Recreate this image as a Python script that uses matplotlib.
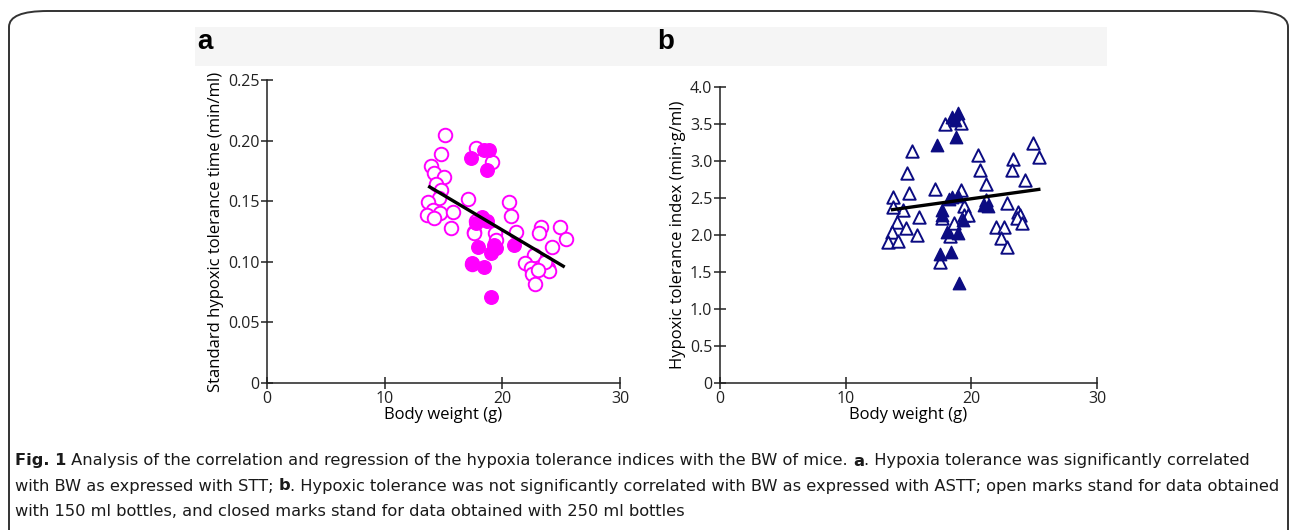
import numpy as np
import matplotlib
matplotlib.use("Agg")
import matplotlib.pyplot as plt
from matplotlib.patches import FancyBboxPatch, Rectangle

# ==== data ====
# panel a: standard hypoxic tolerance time, open = 150 ml bottles, filled = 250 ml
a_open_x = [15.1, 14.8, 13.9, 14.2, 15.0, 14.4, 14.8, 14.6, 13.7, 14.1, 13.6, 14.7,
            15.8, 14.2, 15.6, 17.1, 17.8, 17.6, 17.4, 17.8, 19.1, 20.6, 20.7, 21.2,
            19.4, 19.5, 23.3, 23.1, 24.9, 25.4, 24.2, 22.7, 21.9, 22.4, 22.5, 22.8,
            23.5, 23.9, 24.0, 23.6, 23.0, 17.6]
a_open_y = [0.205, 0.189, 0.179, 0.173, 0.170, 0.164, 0.159, 0.153, 0.149, 0.143, 0.139, 0.140,
            0.141, 0.136, 0.128, 0.152, 0.134, 0.125, 0.098, 0.194, 0.182, 0.149, 0.138, 0.125,
            0.124, 0.118, 0.129, 0.124, 0.129, 0.119, 0.112, 0.106, 0.099, 0.095, 0.090, 0.082,
            0.097, 0.095, 0.092, 0.100, 0.093, 0.124]
a_fill_x = [17.3, 18.4, 18.9, 18.7, 18.3, 17.8, 17.9, 19.3, 19.0, 17.4, 18.4, 19.0, 21.0, 19.5, 18.7]
a_fill_y = [0.186, 0.192, 0.192, 0.176, 0.137, 0.132, 0.112, 0.114, 0.107, 0.099, 0.096, 0.071,
            0.114, 0.111, 0.134]
a_fit = (-0.00576, 0.2414)       # slope, intercept
a_fit_range = [13.7, 25.3]

# panel b: hypoxic tolerance index
b_open_x = [15.3, 14.9, 15.0, 13.8, 14.6, 15.8, 14.1, 14.8, 13.7, 15.7, 13.4, 14.2, 13.8,
            17.1, 17.9, 19.2, 19.2, 19.4, 19.4, 18.6, 17.7, 18.3, 17.5, 19.7,
            20.5, 20.7, 21.2, 21.2, 22.8, 23.3, 23.2, 24.9, 25.4, 24.3, 22.0, 22.6, 22.4,
            22.8, 23.7, 23.9, 23.6, 24.0]
b_open_y = [3.14, 2.84, 2.57, 2.51, 2.34, 2.25, 2.18, 2.09, 2.04, 2.00, 1.91, 1.92, 2.38,
            2.62, 3.50, 3.51, 2.61, 2.39, 2.27, 2.16, 2.23, 1.99, 1.64, 2.27,
            3.08, 2.88, 2.69, 2.47, 2.43, 3.03, 2.88, 3.24, 3.05, 2.74, 2.11, 2.11, 1.96,
            1.84, 2.31, 2.27, 2.23, 2.16]
b_fill_x = [18.9, 18.5, 18.7, 17.3, 18.8, 18.5, 18.9, 18.2, 17.7, 17.7, 19.3, 18.1, 18.9,
            17.5, 18.4, 19.0, 21.0, 21.3]
b_fill_y = [3.65, 3.60, 3.55, 3.22, 3.32, 2.51, 2.53, 2.49, 2.34, 2.27, 2.20, 2.04, 2.03,
            1.75, 1.77, 1.35, 2.41, 2.39]
b_fit = (0.0235, 2.02)
b_fit_range = [13.6, 25.5]

x_ticks = [0, 10, 20, 30]
a_yticks = [0, 0.05, 0.10, 0.15, 0.20, 0.25]
a_yticklabels = ["0", "0.05", "0.10", "0.15", "0.20", "0.25"]
b_yticks = [0, 0.5, 1.0, 1.5, 2.0, 2.5, 3.0, 3.5, 4.0]
b_yticklabels = ["0", "0.5", "1.0", "1.5", "2.0", "2.5", "3.0", "3.5", "4.0"]

caption = [
    [("Fig. 1", True), (" Analysis of the correlation and regression of the hypoxia tolerance "
                        "indices with the BW of mice. ", False), ("a", True),
     (". Hypoxia tolerance was significantly correlated", False)],
    [("with BW as expressed with STT; ", False), ("b", True),
     (". Hypoxic tolerance was not significantly correlated with BW as expressed with ASTT; "
      "open marks stand for data obtained", False)],
    [("with 150 ml bottles, and closed marks stand for data obtained with 250 ml bottles", False)],
]

magenta = "#ff00ff"
navy = "#0c0c82"

plt.rcParams['font.family'] = ['Open Sans', 'DejaVu Sans']

W, H = 1292, 530
fig = plt.figure(figsize=(W / 100, H / 100), dpi=100)

def fx(px):
    return px / W

def fy(py):
    return 1 - py / H

# rounded frame and light header band
frame = FancyBboxPatch((fx(9), fy(600)), fx(1279), (600 - 11) / H,
                       boxstyle="round,pad=0,rounding_size=0.03",
                       transform=fig.transFigure, facecolor="none",
                       edgecolor="#333333", lw=1.4, clip_on=False)
fig.patches.append(frame)
fig.patches.append(Rectangle((fx(195), fy(66)), fx(1107 - 195), 39 / H,
                             transform=fig.transFigure, facecolor="#f5f5f5",
                             edgecolor="none"))


def style_axes(ax):
    for s in ["top", "right"]:
        ax.spines[s].set_visible(False)
    for s in ["left", "bottom"]:
        ax.spines[s].set_linewidth(1.1)
        ax.spines[s].set_color("#222222")
    ax.tick_params(direction="inout", length=9, width=1.1, labelsize=11.5,
                   colors="#222222", pad=1)
    ax.set_xlim(0, 30)
    ax.set_xticks(x_ticks)
    ax.set_xticklabels([str(t) for t in x_ticks])
    ax.patch.set_alpha(0)


# ==== panel a ====
ax1 = fig.add_axes([fx(267), fy(383), fx(620 - 267), (383 - 80) / H])
style_axes(ax1)
ax1.set_ylim(0, 0.25)
ax1.set_yticks(a_yticks)
ax1.set_yticklabels(a_yticklabels)
ax1.scatter(a_open_x, a_open_y, s=95, facecolors="white", edgecolors=magenta,
            linewidths=1.4, zorder=3, clip_on=False)
ax1.scatter(a_fill_x, a_fill_y, s=95, facecolors=magenta, edgecolors=magenta,
            linewidths=1.0, zorder=4, clip_on=False)
xa = np.array(a_fit_range)
ax1.plot(xa, a_fit[0] * xa + a_fit[1], color="black", lw=2.4, zorder=5,
         solid_capstyle="butt")
ax1.set_xlabel("Body weight (g)", fontsize=12, labelpad=0)
ax1.set_ylabel("Standard hypoxic tolerance time (min/ml)", fontsize=12, labelpad=3)

# ==== panel b ====
ax2 = fig.add_axes([fx(720), fy(383), fx(1097 - 720), (383 - 87) / H])
style_axes(ax2)
ax2.set_ylim(0, 4.0)
ax2.set_yticks(b_yticks)
ax2.set_yticklabels(b_yticklabels)
ax2.scatter(b_open_x, b_open_y, s=80, marker="^", facecolors="white", edgecolors=navy,
            linewidths=1.4, zorder=3, clip_on=False)
ax2.scatter(b_fill_x, b_fill_y, s=80, marker="^", facecolors=navy, edgecolors=navy,
            linewidths=1.0, zorder=4, clip_on=False)
xb = np.array(b_fit_range)
ax2.plot(xb, b_fit[0] * xb + b_fit[1], color="black", lw=2.4, zorder=5,
         solid_capstyle="butt")
ax2.set_xlabel("Body weight (g)", fontsize=12, labelpad=0)
ax2.set_ylabel("Hypoxic tolerance index (min\u00b7g/ml)", fontsize=12, labelpad=3)

# panel letters
fig.text(fx(197), fy(42), "a", fontsize=20, fontweight="bold", va="center",
         family=["Liberation Sans", "DejaVu Sans"])
fig.text(fx(657), fy(42), "b", fontsize=20, fontweight="bold", va="center",
         family=["Liberation Sans", "DejaVu Sans"])

# ==== caption, drawn piece by piece so bold parts sit inline ====
renderer = fig.canvas.get_renderer()
cap_family = ["Liberation Sans Narrow", "DejaVu Sans"]


def line_width(pieces, size):
    total = 0
    for txt, bold in pieces:
        t = fig.text(0, 0, txt, fontsize=size, family=cap_family,
                     fontweight="bold" if bold else "normal")
        total += t.get_window_extent(renderer).width
        t.remove()
    return total

# size the caption so the second line spans its width in the original
cap_size = 12.0
wid = line_width(caption[1], cap_size)
cap_size = cap_size * (1281 - 15) / wid

line_y = [461, 486, 511]
for pieces, py in zip(caption, line_y):
    x = 15
    for txt, bold in pieces:
        t = fig.text(fx(x), fy(py), txt, fontsize=cap_size, family=cap_family,
                     fontweight="bold" if bold else "normal", va="center",
                     color="#1a1a1a")
        x += t.get_window_extent(renderer).width

fig.savefig("out.png", dpi=100)
